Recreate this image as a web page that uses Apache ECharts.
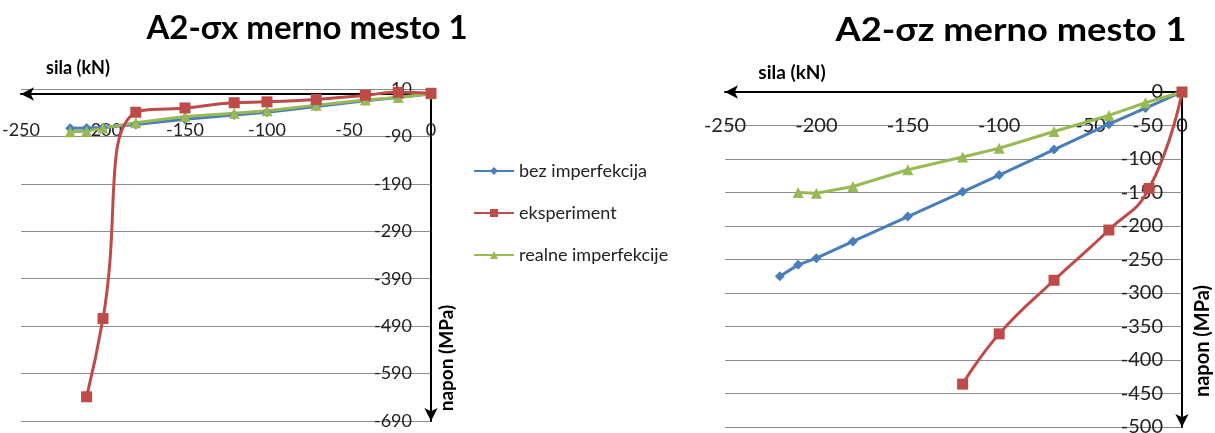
<html lang="en">
<head>
    <meta charset="UTF-8">
    <title>A2 merno mesto 1</title>
    <script src="https://cdn.jsdelivr.net/npm/echarts@6.0.0/dist/echarts.min.js"></script>
    <style>
        html, body { margin: 0; padding: 0; background: #fff; }
        #my-chart { width: 1215px; height: 433px; }
    </style>
</head>
<body>
    <div id="my-chart"></div>
    <script>
        // sila (kN) / napon (MPa) - levi dijagram (sigma x)
        const sxBezSila = [-220, -210, -200, -180, -150, -120, -100, -70, -40, -20, 0];
        const sxBezNapon = [-73, -72, -71, -65, -54, -45, -39, -27, -15, -8, 0];
        const sxEksSila = [-210, -200, -180, -150, -120, -100, -70, -40, -20, 0];
        const sxEksNapon = [-639, -474, -39, -30, -19, -17, -12, -3, 3, 1];
        const sxRealSila = [-220, -210, -200, -180, -150, -120, -100, -70, -40, -20, 0];
        const sxRealNapon = [-80, -79, -72, -61, -48, -41, -36, -24, -13, -8, 0];

        // desni dijagram (sigma z)
        const szBezSila = [-220, -210, -200, -180, -150, -120, -100, -70, -40, -20, 0];
        const szBezNapon = [-275, -258, -248, -223, -186, -149, -124, -86, -48, -24, 0];
        const szEksSila = [-120, -100, -70, -40, -18, 0];
        const szEksNapon = [-436, -361, -281, -206, -144, 0];
        const szRealSila = [-210, -200, -180, -150, -120, -100, -70, -40, -20, 0];
        const szRealNapon = [-150, -151, -141, -116, -97, -84, -59, -35, -16, 0];

        const names = ['bez imperfekcija', 'eksperiment', 'realne imperfekcije'];
        const colors = ['#4A7EBB', '#BE4B48', '#98B954'];

        const font = 'Lato, Calibri, "Open Sans", sans-serif';

        function zip(xs, ys) {
            return xs.map((x, i) => [x, ys[i]]);
        }

        function makeSeries(idx, xs, ys, gridIdx) {
            const symbols = ['diamond', 'rect', 'triangle'];
            const sizes = [10, 11, 11];
            return {
                name: names[idx],
                type: 'line',
                xAxisIndex: gridIdx,
                yAxisIndex: gridIdx,
                data: zip(xs, ys),
                smooth: idx === 1 ? 0.5 : false,
                symbol: symbols[idx],
                symbolSize: sizes[idx],
                showAllSymbol: true,
                lineStyle: { color: colors[idx], width: 3 },
                itemStyle: { color: colors[idx] },
                emphasis: { disabled: true },
                z: idx === 1 ? 3 : 2
            };
        }

        // x osa: linija na nuli (pomeraj od dna grida), natpisi ispod nje
        function xAxisDef(gridIdx, offset, margin, fs) {
            return {
                type: 'value',
                gridIndex: gridIdx,
                position: 'bottom',
                offset: offset,
                min: -250,
                max: 0,
                interval: 50,
                axisLine: {
                    onZero: false,
                    symbol: ['arrow', 'none'],
                    symbolSize: [10, 13],
                    lineStyle: { color: '#000', width: 2 }
                },
                axisTick: { show: false },
                splitLine: { show: false },
                axisLabel: { color: '#222', fontSize: fs, fontFamily: font, margin: margin }
            };
        }

        // y osa: desna ivica grida je sila = 0, natpisi sa unutrasnje strane
        function yAxisDef(gridIdx, min, max, interval, fs) {
            return {
                type: 'value',
                gridIndex: gridIdx,
                position: 'right',
                min: min,
                max: max,
                interval: interval,
                axisLine: {
                    show: true,
                    onZero: false,
                    symbol: ['arrow', 'none'],
                    symbolSize: [10, 13],
                    lineStyle: { color: '#000', width: 2 }
                },
                axisTick: { show: false },
                splitLine: { show: true, lineStyle: { color: '#8c8c8c', width: 1 } },
                axisLabel: { inside: true, color: '#222', fontSize: fs, fontFamily: font, margin: 19 }
            };
        }

        window.onload = function () {
            var chartDom = document.getElementById('my-chart');
            var myChart = echarts.init(chartDom);

            let option = {
                animation: false,
                backgroundColor: '#fff',
                grid: [
                    { left: 21, right: 784, top: 89, bottom: 12, containLabel: false, outerBoundsMode: 'none' },
                    { left: 725, right: 33, top: 92, bottom: 6, containLabel: false, outerBoundsMode: 'none' }
                ],
                xAxis: [xAxisDef(0, -327, 27, 18), xAxisDef(1, -335, 24, 20)],
                yAxis: [yAxisDef(0, -690, 10, 100, 18), yAxisDef(1, -500, 0, 50, 20)],
                legend: {
                    orient: 'vertical',
                    left: 468,
                    top: 157,
                    itemGap: 24,
                    itemWidth: 40,
                    itemHeight: 10,
                    selectedMode: false,
                    data: names,
                    textStyle: { color: '#222', fontSize: 18, fontFamily: font }
                },
                graphic: [
                    { type: 'text', x: 307, y: 28, style: { text: 'A2-σx merno mesto 1', font: 'bold 33px ' + font, fill: '#000', align: 'center', verticalAlign: 'middle' } },
                    { type: 'text', x: 1011, y: 30, scaleX: 1.1, style: { text: 'A2-σz merno mesto 1', font: 'bold 33px ' + font, fill: '#000', align: 'center', verticalAlign: 'middle' } },
                    { type: 'text', x: 78, y: 68, style: { text: 'sila (kN)', font: 'bold 18px ' + font, fill: '#000', align: 'center', verticalAlign: 'middle' } },
                    { type: 'text', x: 792, y: 73, style: { text: 'sila (kN)', font: 'bold 19px ' + font, fill: '#000', align: 'center', verticalAlign: 'middle' } },
                    { type: 'text', x: 447, y: 358, rotation: Math.PI / 2, style: { text: 'napon (MPa)', font: 'bold 19px ' + font, fill: '#000', align: 'center', verticalAlign: 'middle' } },
                    { type: 'text', x: 1203, y: 341, rotation: Math.PI / 2, style: { text: 'napon (MPa)', font: 'bold 20px ' + font, fill: '#000', align: 'center', verticalAlign: 'middle' } }
                ],
                series: [
                    makeSeries(0, sxBezSila, sxBezNapon, 0),
                    makeSeries(1, sxEksSila, sxEksNapon, 0),
                    makeSeries(2, sxRealSila, sxRealNapon, 0),
                    makeSeries(0, szBezSila, szBezNapon, 1),
                    makeSeries(1, szEksSila, szEksNapon, 1),
                    makeSeries(2, szRealSila, szRealNapon, 1)
                ]
            };

            myChart.setOption(option);
        }
    </script>
</body>
</html>
